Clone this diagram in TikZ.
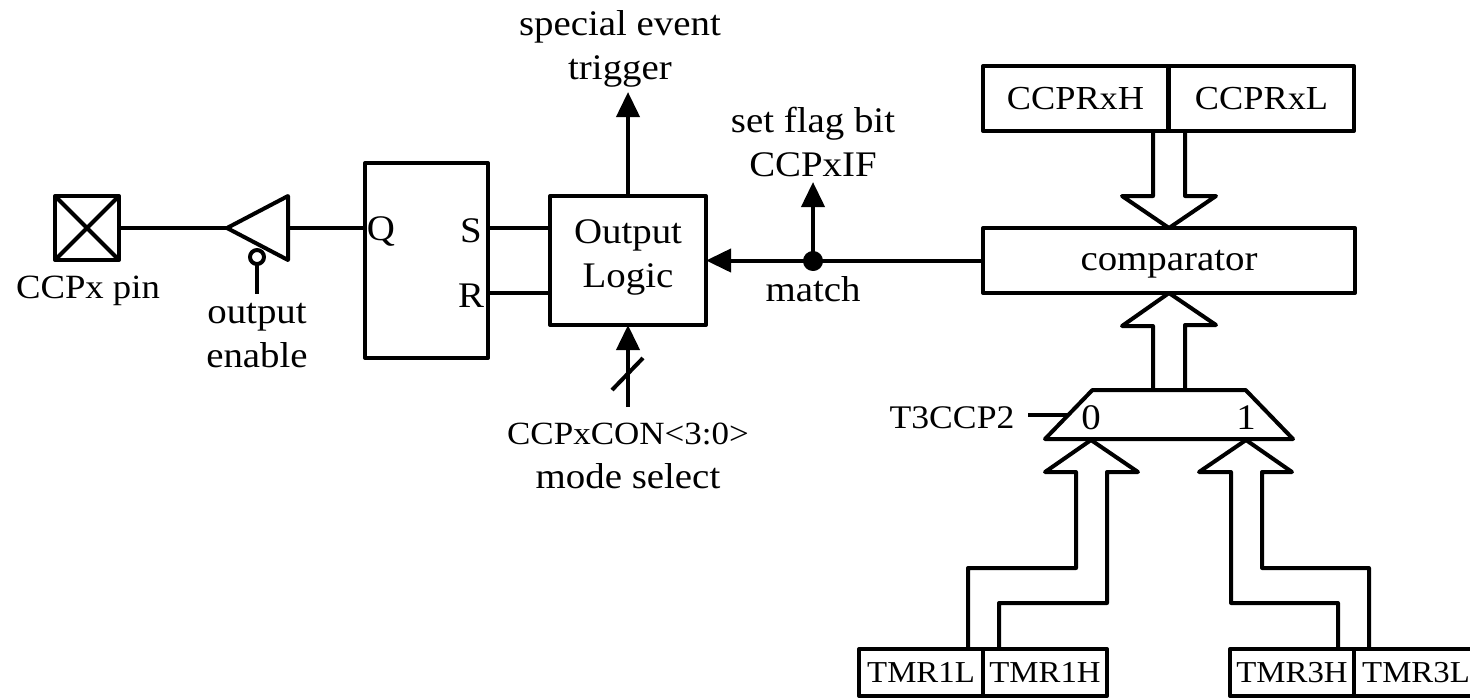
\documentclass[tikz,border=0pt]{standalone}
\usepackage{fontspec}
\setmainfont{Liberation Serif}[FakeStretch=1.08]
\usetikzlibrary{arrows.meta,shapes.geometric}
\begin{document}
\begin{tikzpicture}[x=0.5pt,y=-0.5pt,line width=2pt,line join=round,
  >={Triangle[length=12.5pt,width=11.5pt]},
  every node/.style={font=\fontsize{18}{22}\selectfont},
  box/.style={draw,outer sep=0pt,inner sep=0pt,align=center},
  reg/.style={box,font=\fontsize{16.8}{22}\selectfont,text depth=0pt,minimum width=92.5pt,minimum height=32.5pt},
  tmr/.style={box,font=\fontsize{15.2}{22}\selectfont,text depth=0pt,minimum width=62pt,minimum height=23.5pt},
  lbl/.style={align=center,inner sep=0pt},
  caps/.style={lbl,font=\fontsize{16.5}{22}\selectfont}]
\useasboundingbox (0,0) rectangle (1470,698);
\node[box,minimum size=32pt] (pin) at (87,228) {};
\draw (pin.north west) -- (pin.south east) (pin.south west) -- (pin.north east);
\node[lbl,font=\fontsize{17}{22}\selectfont] (pinlbl) at (88,291) {CCPx pin};
\node[draw,outer sep=0pt,inner sep=0pt,isosceles triangle,isosceles triangle stretches,shape border rotate=180,minimum width=32pt,minimum height=30.5pt,anchor=apex] (buf) at (227,228) {};
\node[draw,circle,fill=white,outer sep=0pt,inner sep=0pt,minimum size=7pt] (bubble) at (257,257) {};
\coordinate (enfree) at (257,294);
\node[lbl] (enlbl) at (257,336) {output\\enable};
\node[box,minimum width=61.5pt,minimum height=97.5pt] (ff) at (426.5,260.5) {};
\node[lbl] (q) at (381,231) {Q};
\node[lbl] (s) at (471,231) {S};
\node[lbl] (r) at (471,296) {R};
\node[box,text depth=7pt,minimum width=78pt,minimum height=64.5pt] (logic) at (628,260.5) {Output\\Logic};
\node[lbl] (trig) at (620,49) {special event\\trigger};
\coordinate (trigtip) at (628,92);
\node[lbl] (flag) at (813,142) {set flag bit\\CCPxIF};
\coordinate (flagtip) at (813,182);
\node[lbl] (match) at (813,289) {match};
\node[lbl] (mode) at (628,456) {\fontsize{16.2}{22}\selectfont CCPxCON<3:0>\\mode select};
\coordinate (modefree) at (628,407);
\node[reg,font=\fontsize{18}{22}\selectfont,minimum width=186pt] (cmp) at (1169,260.5) {comparator};
\node[reg] (ccprh) at (1075.5,98.5) {CCPRxH};
\node[reg] (ccprl) at (1261.5,98.5) {CCPRxL};
\node[draw,outer sep=0pt,inner sep=1pt,trapezium,trapezium left angle=72.8,trapezium right angle=72.8,trapezium stretches=true,minimum width=124pt,minimum height=24.5pt] (mux) at (1169,414.5) {};
\node[lbl] (zero) at (1091,418) {0};
\node[lbl] (one) at (1246,418) {1};
\node[caps] (t3) at (952,418) {T3CCP2};
\coordinate (t3free) at (1028,414.5);
\coordinate (in0) at (1091,440);
\coordinate (in1) at (1246,440);
\node[tmr] (tmr1l) at (921,672.5) {TMR1L};
\node[tmr] (tmr1h) at (1045,672.5) {TMR1H};
\node[tmr] (tmr3h) at (1292,672.5) {TMR3H};
\node[tmr] (tmr3l) at (1416,672.5) {TMR3L};
\draw (pin.east) -- (buf.apex);
\draw (buf.lower side) -- (ff.west |- buf.lower side);
\draw (bubble.south) -- (enfree);
\draw (ff.east |- pin.east) -- (logic.west |- pin.east);
\coordinate (rline) at (520,293);
\draw (ff.east |- rline) -- (logic.west |- rline);
\draw[->] (logic.north) -- (trigtip);
\draw[->] (cmp.west) -- (logic.east);
\node[draw,circle,fill=black,outer sep=0pt,inner sep=0pt,minimum size=8pt] (dot) at (813,261) {};
\draw[->] (dot) -- (flagtip);
\draw[->] (modefree) -- (logic.south);
\draw (612,390) -- (643,358);
\draw (t3free) -- (mux.west);
\draw (ccprh.south east) ++(-15,0) -- ++(0,65) -- ++(-31,0) -- (cmp.north) -- ++(47,-32) -- ++(-31,0) -- ++(0,-65);
\draw (mux.north) ++(-16,0) -- ++(0,-64) -- ++(-31,0) -- (cmp.south) -- ++(47,32) -- ++(-31,0) -- ++(0,64);
\draw (tmr1l.north east) ++(-15,0) -- ++(0,-81) -- ++(108,0) -- ++(0,-96) -- ++(-31,0) -- (in0) -- ++(47,32) -- ++(-31,0) -- ++(0,131) -- ++(-108,0) -- ++(0,46);
\draw (tmr3h.north east) ++(-16,0) -- ++(0,-46) -- ++(-107,0) -- ++(0,-131) -- ++(-32,0) -- (in1) -- ++(46,32) -- ++(-30,0) -- ++(0,96) -- ++(107,0) -- ++(0,81);
\end{tikzpicture}
\end{document}
